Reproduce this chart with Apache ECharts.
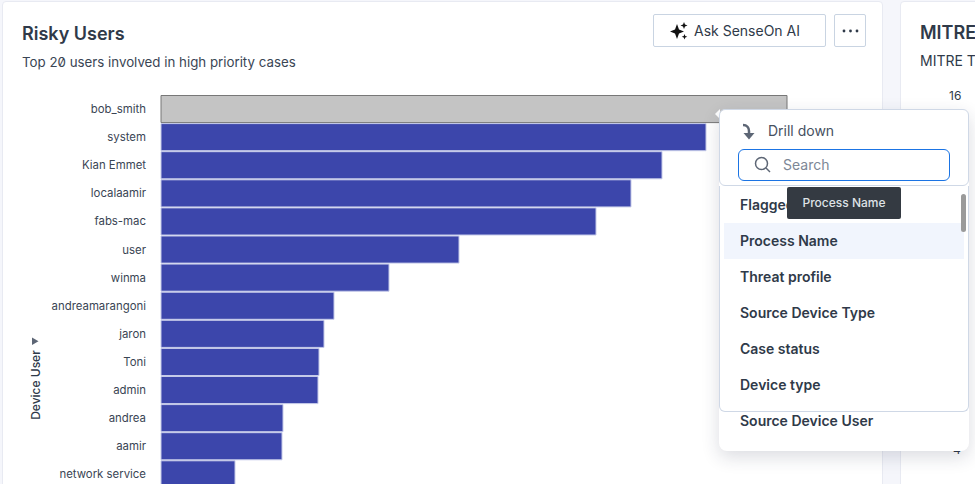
<!DOCTYPE html>
<html>
<head>
<meta charset="utf-8">
<script src="https://cdn.jsdelivr.net/npm/echarts@6/dist/echarts.min.js"></script>
<style>
  html, body { margin: 0; padding: 0; width: 975px; height: 484px; overflow: hidden; background: #f5f6fb; font-family: Inter, sans-serif; color: #2f3a49; }
  .abs { position: absolute; white-space: nowrap; }
  .card { position: absolute; background: #fff; border: 1px solid #e8eaf2; border-radius: 4px; box-sizing: border-box; }
  #main { position: absolute; left: 0; top: 0; width: 975px; height: 484px; font-feature-settings: "zero"; }
  .btn { position: absolute; top: 14px; height: 33px; box-sizing: border-box; background: #fff; border: 1px solid #c9d4e2; border-radius: 2px; }
  .item { position: absolute; left: 740px; font-size: 14px; font-weight: 600; line-height: 18px; color: #2f3a49; white-space: nowrap; }
</style>
</head>
<body>
<div class="card" style="left:2px;top:1px;width:881px;height:500px"></div>
<div class="card" style="left:900px;top:1px;width:100px;height:500px"></div>
<div id="main"></div>

<div class="btn" style="left:653px;width:173px">
  <svg class="abs" style="left:15px;top:6px" width="20" height="20" viewBox="0 0 20 20" fill="#111"><path d="M8 3l2 5.500 5 2-5 2L8 18l-2-5.500-5-2 5-2z"/><path d="M15 1l1 2.500 2.500 1-2.500 1-1 2.500-1-2.500-2.500-1 2.500-1z"/><path d="M15.500 13l.8 2 2 .8-2 .8-.8 2-.8-2-2-.8 2-.8z"/></svg>
  <span class="abs" style="left:40px;top:7px;font-size:14px;line-height:18px">Ask SenseOn AI</span>
</div>
<div class="btn" style="left:834px;width:32px">
  <svg class="abs" style="left:7px;top:14px" width="18" height="4" fill="#2f3a49"><circle cx="2" cy="2" r="1.400"/><circle cx="8.500" cy="2" r="1.400"/><circle cx="15" cy="2" r="1.400"/></svg>
</div>

<span class="abs" style="left:920px;top:22px;font-size:18px;font-weight:600;line-height:22px">MITRE</span>
<span class="abs" style="left:920px;top:52px;font-size:14px;line-height:18px">MITRE T</span>
<span class="abs" style="left:949px;top:89px;font-size:12px;line-height:14px">16</span>
<span class="abs" style="left:953px;top:443px;font-size:12px;line-height:14px">4</span>

<!-- drill menu on top of the chart -->
<div class="abs" style="left:715px;top:109px;width:0;height:0;border:5px solid transparent;border-right-color:#fff;border-left:0"></div>
<div class="abs" style="left:719px;top:109px;width:250px;height:342px;background:#fff;border-radius:8px;box-shadow:0 6px 18px rgba(30,40,70,.16)"></div>
<div class="abs" style="left:719px;top:109px;width:250px;height:77px;box-sizing:border-box;border:1px solid #cfd8e6;border-radius:6px"></div>
<div class="abs" style="left:719px;top:186px;width:250px;height:226px;box-sizing:border-box;border:1px solid #cfd8e6;border-top:0;border-radius:0 0 6px 6px"></div>
<svg class="abs" style="left:741px;top:123px" width="16" height="18" fill="none" stroke="#5d6675" stroke-width="2.500"><path d="M2 2c4 0 6 3 6 6v5"/><path d="M2.500 10l5.500 6.500 5.500-6.500z" fill="#5d6675" stroke="none"/></svg>
<span class="abs" style="left:768px;top:122px;font-size:14px;line-height:18px;color:#46505f">Drill down</span>
<div class="abs" style="left:738px;top:149px;width:212px;height:32px;box-sizing:border-box;border:1px solid #1b74e4;border-radius:6px"></div>
<svg class="abs" style="left:754px;top:156px" width="18" height="18" fill="none" stroke="#5d6675" stroke-width="1.500"><circle cx="7.500" cy="7.500" r="6"/><path d="M12 12l4 4"/></svg>
<span class="abs" style="left:783px;top:156px;font-size:14px;line-height:18px;color:#7d8796">Search</span>

<div class="abs" style="left:724px;top:223px;width:240px;height:36px;background:#f1f5fd"></div>
<div class="abs" style="left:961px;top:194px;width:5px;height:38px;background:#9a9a9a;border-radius:3px"></div>
<span class="item" style="top:196px">Flagged</span>
<span class="item" style="top:232px">Process Name</span>
<span class="item" style="top:268px">Threat profile</span>
<span class="item" style="top:304px">Source Device Type</span>
<span class="item" style="top:340px">Case status</span>
<span class="item" style="top:376px">Device type</span>
<span class="item" style="top:412px">Source Device User</span>
<div class="abs" style="left:787px;top:187px;width:114px;height:32px;background:#343a42;border-radius:2px;color:#dfe2e6;font-size:12px;font-weight:500;line-height:32px;text-align:center">Process Name</div>

<script>
var users = ['bob_smith', 'system', 'Kian Emmet', 'localaamir', 'fabs-mac', 'user', 'winma', 'andreamarangoni', 'jaron', 'Toni', 'admin', 'andrea', 'aamir', 'network service'];
// no value axis in the picture, so these are bar lengths in relative units
var caseCounts = [627, 546, 502, 471, 436, 299, 229, 174, 164, 159, 158, 123, 122, 75];
var selectedUser = 'bob_smith';

var myChart = echarts.init(document.getElementById('main'), null, { renderer: 'svg' });

var barData = [];
for (var i = 0; i < users.length; i++) {
  if (users[i] === selectedUser) {
    barData.push({ value: caseCounts[i], itemStyle: { color: '#c4c4c4', borderColor: '#777777' } });
  } else {
    barData.push(caseCounts[i]);
  }
}

myChart.setOption({
  animation: false,
  backgroundColor: 'transparent',
  textStyle: { fontFamily: 'Inter' },
  title: {
    left: 22,
    top: 24,
    padding: 0,
    text: 'Risky Users',
    subtext: 'Top 20 users involved in high priority cases',
    itemGap: 13,
    textStyle: { fontFamily: 'Inter', fontSize: 18, fontWeight: 600, color: '#2f3a49' },
    subtextStyle: { fontFamily: 'Inter', fontSize: 13.3, color: '#3a4554' }
  },
  // the bars run past the bottom of the window, as in the picture
  grid: { left: 160.5, top: 95, width: 628, height: 393.4, outerBoundsMode: 'none' },
  xAxis: { type: 'value', min: 0, max: 628, show: false },
  yAxis: {
    type: 'category',
    inverse: true,
    data: users,
    axisLine: { show: false },
    axisTick: { show: false },
    axisLabel: { margin: 14.5, fontSize: 11.4, fontFamily: 'Inter', color: '#3a4554', interval: 0, padding: [0, 0, 1, 0] }
  },
  series: [{
    type: 'bar',
    data: barData,
    barCategoryGap: 0,
    itemStyle: { color: '#3c46ab', borderColor: '#c5cae9', borderWidth: 1 }
  }],
  graphic: [
    { type: 'text', x: 35, y: 385, rotation: Math.PI / 2, style: { text: 'Device User', align: 'center', verticalAlign: 'middle', fontFamily: 'Inter', fontSize: 12, fontWeight: 500, fill: '#2f3a49' } },
    { type: 'polygon', shape: { points: [[32, 337.5], [32, 345], [38.5, 341.2]] }, style: { fill: '#5d6675' } }
  ]
});
</script>
</body>
</html>
